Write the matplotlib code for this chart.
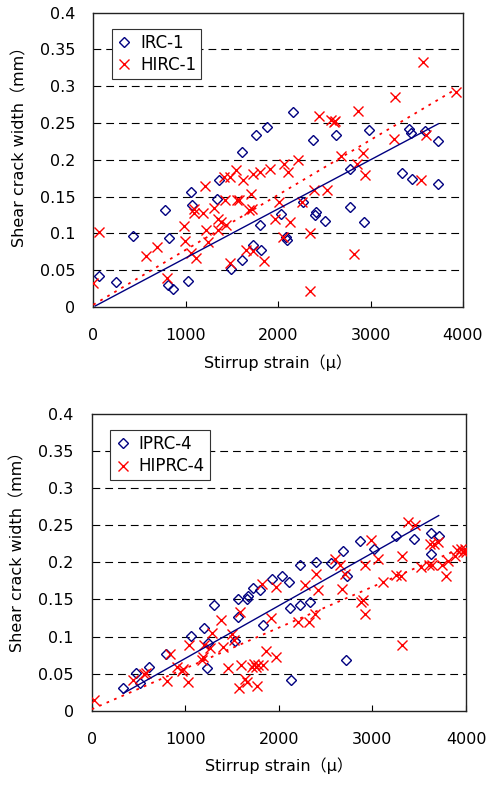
import numpy as np
import matplotlib
matplotlib.use('Agg')
import matplotlib.pyplot as plt

plt.rcParams['font.family'] = ['DejaVu Sans', 'Noto Sans CJK JP']

# ---- top panel: IRC-1 / HIRC-1 ----
irc1_x = [65, 245, 425, 778, 822, 804, 858, 1020, 1056, 1067, 1341, 1362, 1485, 1604,
          1604, 1723, 1755, 1802, 1816, 1877, 2029, 2086, 2094, 2166, 2267, 2378, 2404,
          2411, 2505, 2623, 2775, 2782, 2930, 2984, 3344, 3420, 3434, 3445, 3586, 3733, 3733]
irc1_y = [0.042, 0.034, 0.096, 0.132, 0.094, 0.030, 0.024, 0.036, 0.156, 0.138, 0.147,
          0.172, 0.051, 0.210, 0.064, 0.084, 0.234, 0.111, 0.078, 0.244, 0.126, 0.095,
          0.091, 0.265, 0.143, 0.227, 0.125, 0.129, 0.117, 0.234, 0.188, 0.136, 0.115,
          0.240, 0.182, 0.242, 0.236, 0.174, 0.239, 0.225, 0.167]
hirc1_x = [0, 61, 566, 685, 793, 977, 991, 1056, 1088, 1110, 1092, 1189, 1207, 1218, 1236,
           1308, 1344, 1351, 1387, 1416, 1430, 1441, 1477, 1539, 1556, 1578, 1622, 1683,
           1705, 1715, 1730, 1802, 1730, 1477, 1647, 1845, 1914, 1971, 2014, 2054, 2065,
           2108, 2126, 2213, 2256, 2342, 2350, 2389, 2440, 2530, 2577, 2602, 2617, 2685,
           2818, 2854, 2868, 2915, 2944, 3250, 3261, 3550, 3571, 3596, 3921]
hirc1_y = [0.032, 0.102, 0.069, 0.082, 0.039, 0.110, 0.090, 0.073, 0.133, 0.067, 0.128,
           0.128, 0.165, 0.105, 0.088, 0.134, 0.119, 0.105, 0.116, 0.177, 0.145, 0.111,
           0.177, 0.186, 0.145, 0.146, 0.172, 0.132, 0.153, 0.133, 0.181, 0.183, 0.076,
           0.060, 0.077, 0.063, 0.188, 0.120, 0.143, 0.095, 0.195, 0.183, 0.115, 0.200,
           0.143, 0.022, 0.100, 0.159, 0.260, 0.159, 0.254, 0.251, 0.253, 0.205, 0.072,
           0.195, 0.267, 0.209, 0.179, 0.229, 0.285, 0.173, 0.333, 0.234, 0.292]
# trend lines: (x start, x end, slope, intercept)
irc1_fit = (20, 3733, 6.67e-5, 0.0)
hirc1_fit = (0, 3921, 7.47e-5, 0.003)

# ---- bottom panel: IPRC-4 / HIPRC-4 ----
iprc4_x = [331, 470, 516, 616, 791, 1061, 1200, 1229, 1240, 1304, 1528, 1560, 1560, 1656,
           1667, 1724, 1799, 1834, 1927, 2034, 2112, 2123, 2126, 2230, 2230, 2333, 2397,
           2554, 2689, 2714, 2732, 2871, 3020, 3248, 3448, 3626, 3626, 3708]
iprc4_y = [0.030, 0.051, 0.037, 0.059, 0.076, 0.101, 0.112, 0.058, 0.091, 0.142, 0.094,
           0.126, 0.151, 0.151, 0.154, 0.165, 0.163, 0.115, 0.178, 0.181, 0.173, 0.138,
           0.041, 0.142, 0.196, 0.147, 0.201, 0.199, 0.215, 0.068, 0.182, 0.229, 0.218,
           0.235, 0.232, 0.239, 0.211, 0.235]
hiprc4_x = [25, 445, 563, 577, 809, 837, 908, 962, 980, 1033, 1040, 1175, 1186, 1200, 1264,
            1282, 1378, 1407, 1460, 1496, 1521, 1585, 1574, 1596, 1639, 1656, 1710, 1735,
            1756, 1763, 1781, 1817, 1827, 1863, 1916, 1970, 1970, 2208, 2280, 2322, 2386,
            2397, 2415, 2600, 2654, 2672, 2707, 2878, 2903, 2921, 2921, 2985, 3056, 3110,
            3252, 3302, 3313, 3313, 3384, 3455, 3519, 3604, 3615, 3633, 3658, 3697, 3740,
            3782, 3811, 3882, 3907, 3943, 3971, 3995, 3989]
hiprc4_y = [0.014, 0.041, 0.050, 0.051, 0.040, 0.077, 0.059, 0.054, 0.056, 0.039, 0.089,
            0.068, 0.073, 0.089, 0.084, 0.105, 0.122, 0.086, 0.057, 0.104, 0.095, 0.133,
            0.031, 0.062, 0.043, 0.039, 0.059, 0.063, 0.059, 0.034, 0.062, 0.171, 0.062,
            0.081, 0.125, 0.167, 0.073, 0.119, 0.169, 0.119, 0.130, 0.184, 0.163, 0.204,
            0.196, 0.164, 0.184, 0.147, 0.149, 0.130, 0.196, 0.230, 0.204, 0.173, 0.183,
            0.181, 0.208, 0.088, 0.254, 0.250, 0.194, 0.197, 0.225, 0.196, 0.225, 0.228,
            0.196, 0.181, 0.202, 0.208, 0.217, 0.218, 0.214, 0.214, 0.218]
iprc4_fit = (338, 3708, 7.11e-5, -0.0006)
hiprc4_fit = (0, 3957, 5.5e-5, 0.002)

y_ticks = [0, 0.05, 0.1, 0.15, 0.2, 0.25, 0.3, 0.35, 0.4]
y_ticklabels = ['0', '0.05', '0.1', '0.15', '0.2', '0.25', '0.3', '0.35', '0.4']
x_ticks = [0, 1000, 2000, 3000, 4000]

BLUE = '#000080'
RED = '#ff0000'


def draw_panel(ax, sx, sy, sfit, slabel, hx, hy, hfit, hlabel, label_y):
    for yv in y_ticks[1:-1]:
        ax.axhline(yv, color='black', lw=0.8, ls=(0, (7, 4.5)), zorder=1)
    ax.plot(sx, sy, 'D', ms=4.6, mfc='none', mec=BLUE, mew=1.0, ls='none',
            label=slabel, zorder=3)
    ax.plot(hx, hy, 'x', ms=7.5, color=RED, mew=1.0, ls='none',
            label=hlabel, zorder=3)
    xs = np.array(sfit[:2])
    ax.plot(xs, sfit[2] * xs + sfit[3], color=BLUE, lw=1.0, zorder=4)
    xh = np.array(hfit[:2])
    ax.plot(xh, hfit[2] * xh + hfit[3], color=RED, lw=1.3, ls=(0, (1.5, 3)), zorder=4)

    ax.set_xlim(0, 4000)
    ax.set_ylim(0, 0.4)
    ax.set_xticks(x_ticks)
    ax.set_yticks(y_ticks)
    ax.set_yticklabels(y_ticklabels)
    ax.tick_params(axis='both', direction='in', length=4, labelsize=11.5, width=0.8)
    ax.tick_params(axis='y', pad=13, length=0)
    ax.tick_params(axis='x', pad=15)
    for sp in ax.spines.values():
        sp.set_linewidth(1.0)
        sp.set_color('#222222')
    ax.set_xlabel('Stirrup strain（μ）', fontsize=11.5, labelpad=8)
    ax.set_ylabel('Shear crack width（mm）', fontsize=11.5)
    ax.yaxis.set_label_coords(-0.178, label_y)

    leg = ax.legend(loc='upper left', bbox_to_anchor=(0.05, 0.945), fontsize=12,
                    frameon=True, fancybox=False, handlelength=0.9, handletextpad=0.5,
                    borderpad=0.3, labelspacing=0.25, borderaxespad=0)
    leg.get_frame().set_edgecolor('#333333')
    leg.get_frame().set_linewidth(0.8)
    leg.get_frame().set_alpha(1)


fig = plt.figure(figsize=(4.87, 7.89), dpi=100)
ax1 = fig.add_axes([0.1916, 0.6109, 0.7591, 0.373])
ax2 = fig.add_axes([0.1883, 0.0992, 0.7686, 0.3761])

draw_panel(ax1, irc1_x, irc1_y, irc1_fit, 'IRC-1', hirc1_x, hirc1_y, hirc1_fit, 'HIRC-1', 0.558)
draw_panel(ax2, iprc4_x, iprc4_y, iprc4_fit, 'IPRC-4', hiprc4_x, hiprc4_y, hiprc4_fit, 'HIPRC-4', 0.548)

fig.savefig('out.png', dpi=100)
